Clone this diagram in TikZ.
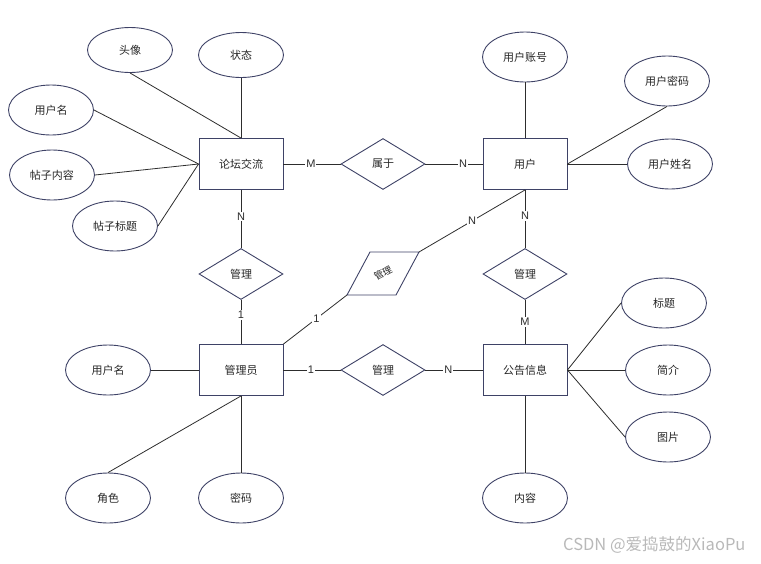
\documentclass[tikz,border=0pt]{standalone}
\usepackage{fontspec}
\setmainfont{Liberation Sans}
\newfontfamily\cjk{Noto Sans CJK SC}
\usetikzlibrary{shapes.geometric}
\definecolor{bord}{RGB}{62,66,102}
\definecolor{ln}{RGB}{45,45,45}
\definecolor{wm}{RGB}{185,185,185}
\begin{document}
\begin{tikzpicture}[x=1pt,y=-1pt,
  lbl/.style={font=\cjk\fontsize{11}{12}\selectfont, text=black!85},
  ent/.style={lbl, draw=bord, line width=0.9pt, minimum width=84pt, minimum height=51pt, inner sep=0pt},
  attr/.style={lbl, ellipse, draw=bord, line width=0.9pt, minimum width=85pt, minimum height=50pt, inner sep=0pt},
  rel/.style={lbl, diamond, draw=bord, line width=0.9pt, minimum width=84pt, minimum height=51pt, inner sep=0pt},
  conn/.style={draw=ln, line width=0.8pt},
  card/.style={fill=white, inner sep=1pt, font=\fontsize{11}{12}\selectfont, text=ln}]
\useasboundingbox (0,0) rectangle (761,563);
% entities
\node[ent] (lt) at (241,164) {论坛交流};
\node[ent] (yh) at (525,164) {用户};
\node[ent] (gly) at (241,370) {管理员};
\node[ent] (gg) at (525,370) {公告信息};
% relations
\node[rel] (sy) at (383,164) {属于};
\node[rel] (gl1) at (241,274) {管理};
\node[rel] (gl2) at (525,274) {管理};
\node[rel] (gl3) at (383,370) {管理};
% parallelogram relation
\coordinate (pTL) at (370,252);
\coordinate (pTR) at (419,252);
\coordinate (pBR) at (396,295);
\coordinate (pBL) at (347,295);
\draw[draw=bord, line width=0.9pt] (pTL) -- (pTR) -- (pBR) -- (pBL) -- cycle;
\node[font=\cjk\fontsize{9.5}{10}\selectfont, text=black!85, rotate=28, inner sep=0pt] (gl4) at (383,273) {管理};
% attributes
\node[attr, minimum height=45pt] (tx) at (130,50) {头像};
\node[attr, minimum height=45pt] (zt) at (241,55) {状态};
\node[attr] (yhm1) at (51,110) {用户名};
\node[attr] (tznr) at (52,175) {帖子内容};
\node[attr] (tzbt) at (115,226) {帖子标题};
\node[attr] (zh) at (525,57) {用户账号};
\node[attr] (mm) at (667,81) {用户密码};
\node[attr] (xm) at (670,164) {用户姓名};
\node[attr] (yhm2) at (108,370) {用户名};
\node[attr] (js) at (108,498) {角色};
\node[attr] (mm2) at (241,498) {密码};
\node[attr] (bt) at (664,303) {标题};
\node[attr] (jj) at (668,370) {简介};
\node[attr] (tp) at (668,437) {图片};
\node[attr] (nr) at (525,498) {内容};
% attribute connectors
\draw[conn] (tx.south) -- (lt.north);
\draw[conn] (zt) -- (lt);
\draw[conn] (yhm1.east) -- (lt.west);
\draw[conn] (tznr.east) -- (lt.west);
\draw[conn] (tzbt.east) -- (lt.west);
\draw[conn] (zh) -- (yh);
\draw[conn] (mm.south) -- (yh.east);
\draw[conn] (xm.west) -- (yh.east);
\draw[conn] (yhm2) -- (gly);
\draw[conn] (js.north) -- (gly.south);
\draw[conn] (mm2) -- (gly);
\draw[conn] (bt.west) -- (gg.east);
\draw[conn] (jj.west) -- (gg.east);
\draw[conn] (tp.west) -- (gg.east);
\draw[conn] (nr) -- (gg);
% relationship connectors
\draw[conn] (lt.east) -- node[card, pos=0.48] {M} (sy.west);
\draw[conn] (sy.east) -- node[card, pos=0.66] {N} (yh.west);
\draw[conn] (lt.south) -- node[card, pos=0.46] {N} (gl1.north);
\draw[conn] (gl1.south) -- node[card, pos=0.34] {1} (gly.north);
\draw[conn] (yh.south) -- node[card, pos=0.45] {N} (gl2.north);
\draw[conn] (gl2.south) -- node[card, pos=0.5] {M} (gg.north);
\draw[conn] (gly.east) -- node[card, pos=0.48] {1} (gl3.west);
\draw[conn] (gl3.east) -- node[card, pos=0.4] {N} (gg.west);
\draw[conn] (gly.north east) -- node[card, pos=0.52] {1} (pBL);
\draw[conn] (pTR) -- node[card, pos=0.5] {N} (yh.south);
% watermark
\node[font=\cjk\fontsize{16.5}{18}\selectfont, text=wm, anchor=east] (wmk) at (749,545) {CSDN @爱捣鼓的XiaoPu};
\end{tikzpicture}
\end{document}
